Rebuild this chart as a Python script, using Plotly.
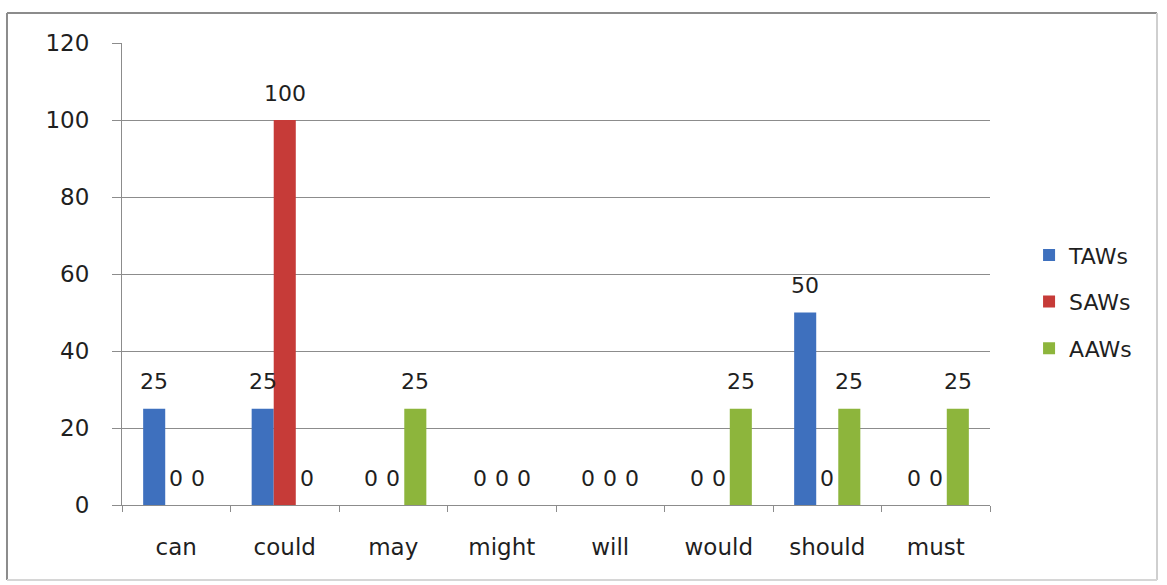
import plotly.graph_objects as go

# Modal verbs and their percentage shares per writer group
categories = ["can", "could", "may", "might", "will", "would", "should", "must"]
taws = [25, 25, 0, 0, 0, 0, 50, 0]
saws = [0, 100, 0, 0, 0, 0, 0, 0]
aaws = [0, 0, 25, 0, 0, 25, 25, 25]
y_ticks = [0, 20, 40, 60, 80, 100, 120]

series = [
    ("TAWs", taws, "#3E70BE"),
    ("SAWs", saws, "#C63B38"),
    ("AAWs", aaws, "#8DB53C"),
]

FONT = "DejaVu Sans"
TEXT_COLOR = "#1f1f1f"
BARGAP = 0.39

fig = go.Figure()
for i, (name, vals, color) in enumerate(series):
    fig.add_trace(go.Bar(
        x=categories, y=vals, name=name,
        marker=dict(color=color, line=dict(width=0)),
        legendgroup=name,
    ))

# Value labels above each bar (including the zero-height ones)
bar_w = (1 - BARGAP) / len(series)
for k, (name, vals, color) in enumerate(series):
    off = (k - (len(series) - 1) / 2) * bar_w
    for i, v in enumerate(vals):
        fig.add_annotation(
            x=i + off, y=v, xref="x", yref="y",
            text=str(v), showarrow=False, yshift=27,
            font=dict(family=FONT, size=22, color=TEXT_COLOR),
        )

# Chart-area frame
frame = [
    (-0.1325, 1.0649, 1.1924, 1.0649, "#8c8c8c"),   # top
    (-0.1325, -0.1623, -0.1325, 1.0649, "#8c8c8c"),  # left
    (1.1924, -0.1623, 1.1924, 1.0649, "#cfcfcf"),    # right
    (-0.1325, -0.1623, 1.1924, -0.1623, "#d6d6d6"),  # bottom
]
for x0, y0, x1, y1, c in frame:
    fig.add_shape(type="line", xref="paper", yref="paper",
                  x0=x0, y0=y0, x1=x1, y1=y1,
                  line=dict(color=c, width=2))

fig.update_layout(
    width=1167, height=585,
    margin=dict(l=122, r=177, t=43, b=80),
    paper_bgcolor="white", plot_bgcolor="white",
    barmode="group", bargap=BARGAP, bargroupgap=0,
    font=dict(family=FONT, size=23, color=TEXT_COLOR),
    showlegend=True,
    legend=dict(
        x=1.045, y=0.44, xanchor="left", yanchor="middle",
        font=dict(family=FONT, size=22, color=TEXT_COLOR),
        tracegroupgap=15, bgcolor="rgba(0,0,0,0)",
    ),
    xaxis=dict(
        type="category", showgrid=False,
        showline=True, linecolor="#8c8c8c", linewidth=1,
        ticks="outside", tickson="boundaries", ticklen=6,
        tickcolor="#8c8c8c", ticklabelstandoff=21,
        tickfont=dict(family=FONT, size=23, color=TEXT_COLOR),
    ),
    yaxis=dict(
        range=[0, 120], tickvals=y_ticks,
        showgrid=True, gridcolor="#8c8c8c", gridwidth=1,
        showline=True, linecolor="#8c8c8c", linewidth=1,
        ticks="outside", ticklen=9, tickcolor="#8c8c8c",
        ticklabelstandoff=18, zeroline=False,
        tickfont=dict(family=FONT, size=23, color=TEXT_COLOR),
    ),
)

fig.write_html("out.html")
